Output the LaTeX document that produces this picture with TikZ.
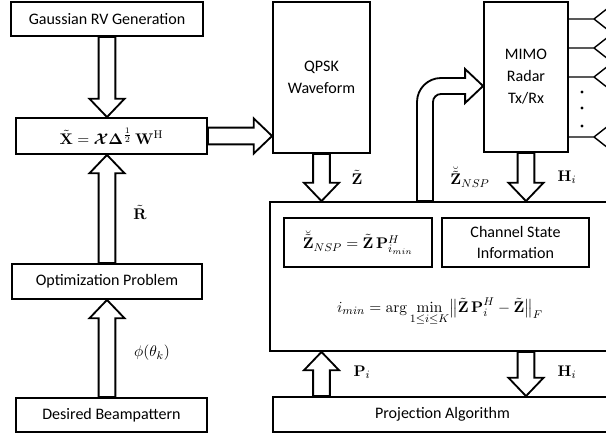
\documentclass[tikz,border=0pt]{standalone}
\usepackage{amsmath,bm}
\usepackage[no-math]{fontspec}
\setmainfont{Carlito}
\usetikzlibrary{calc}
\newcommand{\fatarrow}[2]{%
  \draw[fat] let \p1=($(#2)-(#1)$), \n1={atan2(\y1,\x1)}, \n2={veclen(\x1,\y1)} in
    [shift={(#1)}, rotate=\n1]
    (0cm,-0.21cm) -- ({\n2-0.46cm},-0.21cm) -- ({\n2-0.46cm},-0.44cm) -- ({\n2+0cm},0cm)
    -- ({\n2-0.46cm},0.44cm) -- ({\n2-0.46cm},0.21cm) -- (0cm,0.21cm) -- cycle;}
\begin{document}
\begin{tikzpicture}[x=0.025cm, y=-0.025cm,
  box/.style = {rectangle,draw,line width=1.3pt,inner sep=0pt,align=center,
                font=\fontsize{11.4}{15.6}\selectfont},
  size/.style 2 args = {minimum width=#1*0.025cm,minimum height=#2*0.025cm},
  lab/.style = {inner sep=1pt,font=\fontsize{11.4}{15.6}\selectfont},
  fat/.style = {draw,line width=1.3pt,fill=white,line join=miter},
  wire/.style = {line width=1pt}]
\useasboundingbox (0,0) rectangle (606,436);
\clip (0,0) rectangle (606,436);
\node[box,size={192}{34}] (gauss)   at (107,19)    {Gaussian RV Generation};
\node[box,size={191}{36}] (xbox)    at (111.5,136) {$\tilde{\mathbf{X}} = \bm{\mathcal{X}}\bm{\Delta}^{\frac{1}{2}}\,\mathbf{W}^{\mathrm{H}}$};
\node[box,size={190}{35}] (optim)   at (107,281.5) {Optimization Problem};
\node[box,size={191}{34}] (desired) at (111.5,415) {Desired Beampattern};
\node[box,size={97}{151}] (qpsk)    at (321.5,77.5) {QPSK\\Waveform};
\node[box,size={84}{150}] (mimo)    at (526,77)    {MIMO\\Radar\\Tx/Rx};
\node[box,size={342}{149}] (big)    at (441,276.5) {};
\node[box,size={148}{49}] (nsp)     at (358,242.5) {$\breve{\tilde{\mathbf{Z}}}_{NSP} = \tilde{\mathbf{Z}}\,\mathbf{P}^{H}_{i_{min}}$};
\node[box,size={147}{49}] (csi)     at (515.5,242.5) {Channel State\\Information};
\node[lab] (imin) at (440,312) {$\displaystyle i_{min} = \arg\min_{1\le i\le K}\bigl\|\tilde{\mathbf{Z}}\,\mathbf{P}_i^{H} - \tilde{\mathbf{Z}}\bigr\|_F$};
\node[box,size={339}{35}] (proj)    at (442.5,414.5) {Projection Algorithm};
\fatarrow{gauss.south}{gauss.south |- xbox.north}
\fatarrow{optim.north}{optim.north |- xbox.south}
\fatarrow{optim.south |- desired.north}{optim.south}
\fatarrow{xbox.east}{xbox.east -| qpsk.west}
\fatarrow{qpsk.south}{qpsk.south |- big.north}
\fatarrow{mimo.south}{mimo.south |- big.north}
\fatarrow{qpsk.south |- proj.north}{qpsk.south |- big.south}
\fatarrow{mimo.south |- big.south}{mimo.south |- proj.north}
\coordinate (bend) at (425,86);
\draw[fat] ($(big.north -| bend)+(-8,0)$) -- ($(bend)+(-8,16)$)
  arc[start angle=180, end angle=90, radius=0.6cm]
  -- ($(mimo.west |- bend)+(-18,-8)$) -- ++(0,-9) -- (mimo.west |- bend)
  -- ++(-18,17) -- ++(0,-9) -- ($(bend)+(16,8)$)
  arc[start angle=90, end angle=180, radius=0.2cm]
  -- ($(big.north -| bend)+(8,0)$) -- cycle;
\foreach \y in {19,48,77,137}
  \draw[wire] (mimo.east |- 0,\y) -- (594,\y) ++(14,-11) -- (594,\y) -- ++(14,11);
\foreach \y in {92,108,126}
  \fill (582,\y) circle[radius=1.1pt];
\node[lab] (rlab)   at (140,212) {$\tilde{\mathbf{R}}$};
\node[lab] (philab) at (152,353) {$\phi(\theta_k)$};
\node[lab] (zlab)   at (357,177) {$\tilde{\mathbf{Z}}$};
\node[lab] (znsp)   at (470,177) {$\breve{\tilde{\mathbf{Z}}}_{NSP}$};
\node[lab] (hlab)   at (567,177) {$\mathbf{H}_i$};
\node[lab] (plab)   at (362,372) {$\mathbf{P}_i$};
\node[lab] (hlabb)  at (567,372) {$\mathbf{H}_i$};
\end{tikzpicture}
\end{document}
